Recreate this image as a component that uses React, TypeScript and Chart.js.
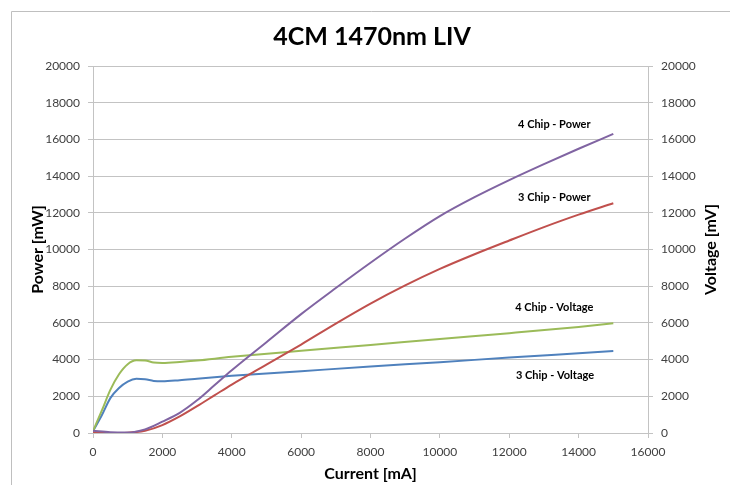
import React, { useEffect, useRef } from "react";
import { Chart, registerables } from "chart.js";

Chart.register(...registerables);

const powerCurrent = [0, 500, 1000, 1500, 2000, 2500, 3000, 3500, 4000, 5000, 6000, 7000, 8000, 9000, 10000, 11000, 12000, 13000, 14000, 15000];
const power4Chip = [120, 40, 30, 200, 620, 1100, 1780, 2600, 3420, 4950, 6480, 7900, 9280, 10600, 11820, 12850, 13780, 14650, 15490, 16300];
const power3Chip = [30, 0, 20, 120, 430, 900, 1460, 2050, 2640, 3720, 4820, 5960, 7050, 8040, 8940, 9740, 10490, 11220, 11900, 12520];

const voltageCurrent = [0, 250, 500, 750, 1000, 1250, 1500, 1750, 2000, 2500, 3000, 4000, 6000, 8000, 10000, 12000, 14000, 15000];
const voltage4Chip = [100, 1200, 2350, 3200, 3750, 3960, 3950, 3840, 3820, 3870, 3950, 4150, 4480, 4800, 5125, 5440, 5780, 5980];
const voltage3Chip = [100, 950, 1900, 2450, 2800, 2950, 2930, 2840, 2820, 2880, 2960, 3120, 3370, 3620, 3860, 4110, 4350, 4470];

const xTicks = [0, 2000, 4000, 6000, 8000, 10000, 12000, 14000, 16000];
const yTicks = [0, 2000, 4000, 6000, 8000, 10000, 12000, 14000, 16000, 18000, 20000];

const titleText = "4CM 1470nm LIV";
const xTitle = "Current [mA]";
const yLeftTitle = "Power [mW]";
const yRightTitle = "Voltage [mV]";

const seriesNames = ["4 Chip - Power", "3 Chip - Power", "4 Chip - Voltage", "3 Chip - Voltage"];
const seriesLabelX = [13300, 13300, 13300, 13320];
const seriesLabelY = [16800, 12850, 6830, 3120];

const FONT = "Lato, 'Open Sans', sans-serif";

function pts(xs: number[], ys: number[]) {
  return xs.map((x, i) => ({ x, y: ys[i] }));
}

const textPlugin = {
  id: "textPlugin",
  beforeDraw(chart: any) {
    const ctx = chart.ctx;
    ctx.save();
    ctx.fillStyle = "#fff";
    ctx.fillRect(0, 0, chart.width, chart.height);
    ctx.restore();
  },
  afterDraw(chart: any) {
    const ctx = chart.ctx;
    const ca = chart.chartArea;
    const xs = chart.scales.x;
    const ys = chart.scales.y;
    ctx.save();
    ctx.fillStyle = "#000";
    ctx.textAlign = "center";
    ctx.textBaseline = "middle";
    ctx.font = `bold 25px ${FONT}`;
    ctx.fillText(titleText, 372, 37);
    ctx.font = `bold 16px ${FONT}`;
    ctx.fillText(xTitle, (ca.left + ca.right) / 2, 474);
    ctx.save();
    ctx.translate(38, (ca.top + ca.bottom) / 2);
    ctx.rotate(-Math.PI / 2);
    ctx.fillText(yLeftTitle, 0, 0);
    ctx.restore();
    ctx.save();
    ctx.translate(711, (ca.top + ca.bottom) / 2);
    ctx.rotate(-Math.PI / 2);
    ctx.fillText(yRightTitle, 0, 0);
    ctx.restore();
    ctx.font = `bold 11px ${FONT}`;
    seriesNames.forEach((n, i) => {
      ctx.fillText(n, xs.getPixelForValue(seriesLabelX[i]), ys.getPixelForValue(seriesLabelY[i]));
    });
    ctx.strokeStyle = "#bfbfbf";
    ctx.lineWidth = 1;
    ctx.beginPath();
    ctx.moveTo(11.5, 490);
    ctx.lineTo(11.5, 11.5);
    ctx.lineTo(735, 11.5);
    ctx.stroke();
    ctx.restore();
  },
};

export default function App() {
  const ref = useRef<HTMLCanvasElement>(null);
  useEffect(() => {
    document.body.style.margin = "0";
    const tickFont = { family: FONT, size: 12 };
    const gridColor = "#c3c3c3";
    const fmt = (v: any) => String(v);
    const chart = new Chart(ref.current!, {
      type: "line",
      data: {
        datasets: [
          { label: seriesNames[0], data: pts(powerCurrent, power4Chip), borderColor: "#8064A2", yAxisID: "y" },
          { label: seriesNames[1], data: pts(powerCurrent, power3Chip), borderColor: "#C0504D", yAxisID: "y" },
          { label: seriesNames[2], data: pts(voltageCurrent, voltage4Chip), borderColor: "#9BBB59", yAxisID: "y2" },
          { label: seriesNames[3], data: pts(voltageCurrent, voltage3Chip), borderColor: "#4F81BD", yAxisID: "y2" },
        ].map((d) => ({ ...d, borderWidth: 2, pointRadius: 0, fill: false, cubicInterpolationMode: "monotone" as const })),
      },
      options: {
        responsive: false,
        animation: false,
        layout: { padding: { top: 66, left: 0, right: 0, bottom: 0 } },
        plugins: { legend: { display: false }, title: { display: false }, tooltip: { enabled: false } },
        scales: {
          x: {
            type: "linear",
            min: 0,
            max: 16000,
            afterBuildTicks: (s: any) => { s.ticks = xTicks.map((v) => ({ value: v })); },
            afterFit: (s: any) => { s.height = 52; },
            ticks: { font: tickFont, color: "#404040", padding: 7, maxRotation: 0, autoSkip: false, callback: fmt },
            grid: { drawOnChartArea: false, drawTicks: true, tickLength: 5, color: gridColor },
            border: { color: gridColor },
          },
          y: {
            position: "left",
            min: 0,
            max: 20000,
            afterBuildTicks: (s: any) => { s.ticks = yTicks.map((v) => ({ value: v })); },
            afterFit: (s: any) => { s.width = 93; },
            ticks: { font: tickFont, color: "#404040", padding: 8, callback: fmt },
            grid: { color: gridColor, tickLength: 5 },
            border: { color: gridColor },
          },
          y2: {
            position: "right",
            min: 0,
            max: 20000,
            afterBuildTicks: (s: any) => { s.ticks = yTicks.map((v) => ({ value: v })); },
            afterFit: (s: any) => { s.width = 82; },
            ticks: { font: tickFont, color: "#404040", padding: 8, callback: fmt },
            grid: { drawOnChartArea: false, color: gridColor, tickLength: 5 },
            border: { color: gridColor },
          },
        },
      },
      plugins: [textPlugin],
    } as any);
    return () => chart.destroy();
  }, []);
  return (
    <div style={{ position: "fixed", left: 0, top: 0, width: 730, height: 485 }}>
      <canvas ref={ref} width={730} height={485} />
    </div>
  );
}
